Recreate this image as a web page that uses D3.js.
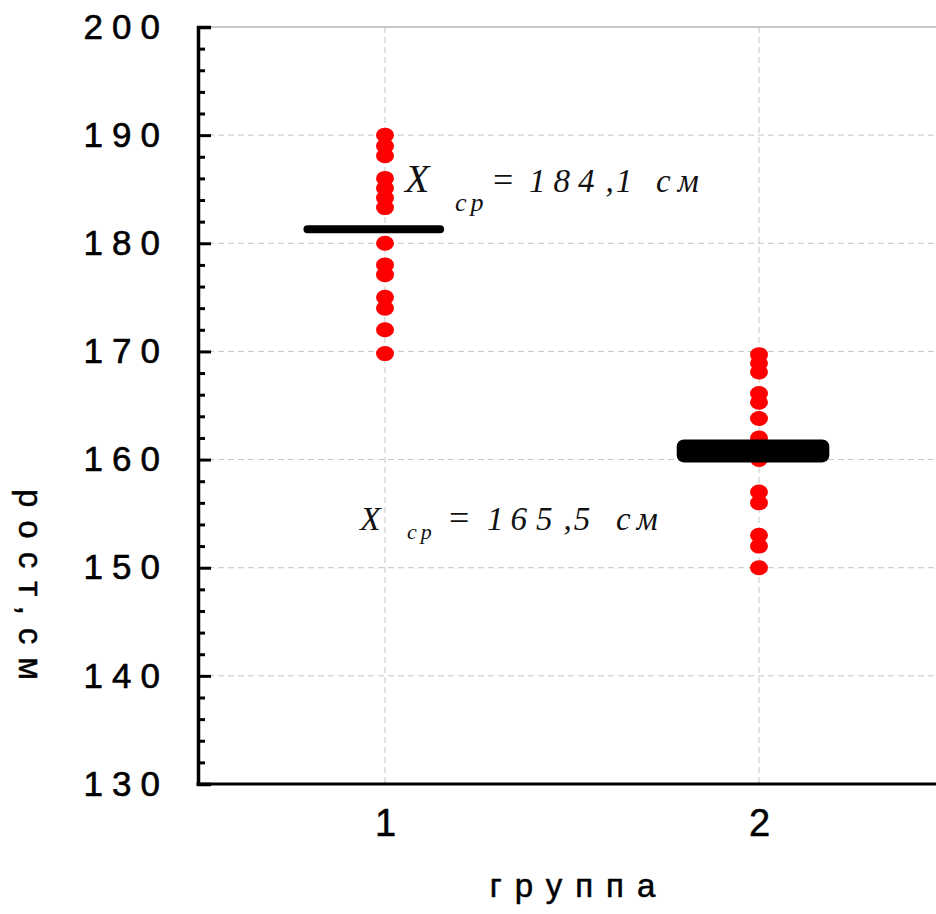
<!DOCTYPE html>
<html>
<head>
<meta charset="utf-8">
<script src="https://cdn.jsdelivr.net/npm/d3@7"></script>
<style>
  html, body { margin: 0; padding: 0; background: #fff; overflow: hidden; }
  svg { display: block; overflow: hidden; }
</style>
</head>
<body>
<svg id="chart" width="936" height="914"></svg>
<script>
// values
var groups = [1, 2];
var group1Heights = [190, 189, 188.1, 186, 185.1, 184.2, 183.3, 180, 178, 177.1, 175, 174, 172, 169.8];
var group2Heights = [169.7, 168.9, 168.1, 166.1, 165.3, 163.8, 162, 160, 157, 156, 153, 152, 150];
var meanValues = [181.3, 160.8];
var meanFrom = [0.782, 1.78];
var meanTo = [1.158, 2.188];
var yTicks = [130, 140, 150, 160, 170, 180, 190, 200];
var meanLabels = ["184,1", "165,5"];

var width = 936, height = 914;
var margin = { top: 27, left: 198, bottom: 784 };
var sans = "Liberation Sans, Arial, sans-serif";

var svg = d3.select("#chart");

var x = d3.scaleLinear().domain([0.5, 2.5]).range([margin.left, 946]);
var y = d3.scaleLinear().domain([130, 200]).range([margin.bottom, margin.top]);

// grid
var grid = svg.append("g")
    .attr("stroke", "#c4c4c4")
    .attr("stroke-width", 1)
    .attr("stroke-dasharray", "6,4");
grid.selectAll("line.h")
    .data(yTicks.filter(function (d) { return d > 130 && d < 200; }))
    .join("line")
    .attr("class", "h")
    .attr("x1", margin.left).attr("x2", width)
    .attr("y1", function (d) { return y(d); })
    .attr("y2", function (d) { return y(d); });
grid.selectAll("line.v")
    .data(groups)
    .join("line")
    .attr("class", "v")
    .attr("x1", function (d) { return x(d); })
    .attr("x2", function (d) { return x(d); })
    .attr("y1", margin.top).attr("y2", margin.bottom);

// top frame line
svg.append("line")
    .attr("x1", margin.left).attr("x2", width)
    .attr("y1", y(200)).attr("y2", y(200))
    .attr("stroke", "#b4b4b4").attr("stroke-width", 1.5);

// points
var points = [];
group1Heights.forEach(function (v) { points.push({ g: 1, v: v }); });
group2Heights.forEach(function (v) { points.push({ g: 2, v: v }); });

svg.append("g")
    .attr("fill", "#ff0000")
    .selectAll("ellipse")
    .data(points)
    .join("ellipse")
    .attr("cx", function (d) { return x(d.g); })
    .attr("cy", function (d) { return y(d.v); })
    .attr("rx", 9)
    .attr("ry", 7.5);

// mean lines
var thick = [8, 23];
svg.append("g")
    .attr("fill", "#000")
    .selectAll("rect")
    .data(groups)
    .join("rect")
    .attr("x", function (d, i) { return x(meanFrom[i]); })
    .attr("width", function (d, i) { return x(meanTo[i]) - x(meanFrom[i]); })
    .attr("y", function (d, i) { return y(meanValues[i]) - thick[i] / 2; })
    .attr("height", function (d, i) { return thick[i]; })
    .attr("rx", function (d, i) { return i === 0 ? 4 : 7; });

// axes
var yAxis = function (g) { return g
    .attr("transform", "translate(" + margin.left + ",0)")
    .call(d3.axisLeft(y).tickValues(yTicks).tickSize(-13).tickPadding(29)
        .tickFormat(d3.format("d")))
    .call(function (g) { g.select(".domain").attr("stroke-width", 3.5); })
    .call(function (g) { g.selectAll(".tick line").attr("stroke-width", 3); })
    .call(function (g) { g.selectAll("text")
        .attr("font-family", sans)
        .attr("font-size", "35px")
        .attr("fill", "#000")
        .attr("stroke", "#000")
        .attr("stroke-width", 0.6)
        .style("letter-spacing", "9px"); }); };

var yMinor = function (g) { return g
    .attr("transform", "translate(" + margin.left + ",0)")
    .call(d3.axisLeft(y).tickValues(d3.range(132, 200, 2).filter(function (d) { return d % 10 !== 0; }))
        .tickSize(-7).tickFormat(""))
    .call(function (g) { g.select(".domain").remove(); })
    .call(function (g) { g.selectAll(".tick line").attr("stroke-width", 3); }); };

var xAxis = function (g) { return g
    .attr("transform", "translate(0," + margin.bottom + ")")
    .call(d3.axisBottom(x).tickValues(groups).tickSize(0).tickPadding(25)
        .tickFormat(d3.format("d")))
    .call(function (g) { g.select(".domain").remove(); })
    .call(function (g) { g.selectAll("text")
        .attr("font-family", sans)
        .attr("font-size", "38px")
        .attr("fill", "#000")
        .attr("stroke", "#000")
        .attr("stroke-width", 0.5); }); };

svg.append("g").call(yMinor);
svg.append("g").call(xAxis);
svg.append("line")
    .attr("x1", margin.left - 1.5).attr("x2", width)
    .attr("y1", margin.bottom).attr("y2", margin.bottom)
    .attr("stroke", "#000").attr("stroke-width", 3);
svg.append("g").call(yAxis);

// axis titles
svg.append("text")
    .attr("x", 579).attr("y", 897)
    .attr("text-anchor", "middle")
    .attr("font-family", sans)
    .attr("font-size", "33px")
    .attr("stroke", "#000")
    .attr("stroke-width", 0.5)
    .style("letter-spacing", "13px")
    .text("группа");

svg.append("text")
    .attr("transform", "translate(19,591) rotate(90)")
    .attr("text-anchor", "middle")
    .attr("font-family", sans)
    .attr("font-size", "33px")
    .attr("stroke", "#000")
    .attr("stroke-width", 0.5)
    .style("letter-spacing", "13px")
    .text("рост,см");

// mean annotations: X_ср = value см (spacing per glyph via dx)
function annotate(x0, y0, label, o) {
    var t = svg.append("text")
        .attr("font-family", "Liberation Serif, Times New Roman, serif")
        .attr("font-style", "italic")
        .attr("fill", "#111");
    t.append("tspan").attr("x", x0).attr("y", y0).attr("font-size", o.big + "px").text("X");
    t.append("tspan").attr("x", x0 + o.sub).attr("y", y0 + o.subDy).attr("font-size", o.subSize + "px")
        .attr("dx", "0 4").text("ср");
    t.append("tspan").attr("x", x0 + o.eq).attr("y", y0).attr("font-size", "36px")
        .attr("font-style", "normal").text("=");
    t.append("tspan").attr("x", x0 + o.num).attr("y", y0).attr("font-size", "33px")
        .attr("dx", o.numDx).text(label);
    t.append("tspan").attr("x", x0 + o.unit).attr("y", y0).attr("font-size", "33px")
        .attr("dx", o.unitDx).text("см");
}
annotate(x(1) + 20, y(184.7), meanLabels[0],
    { big: 40, sub: 50, subDy: 19, subSize: 26, eq: 88, num: 124, numDx: "0 8 8 11 2",
      unit: 251, unitDx: "0 7" });
annotate(x(1) - 25, y(153.5), meanLabels[1],
    { big: 34, sub: 47, subDy: 9, subSize: 22, eq: 89, num: 127, numDx: "0 7 9 11 2",
      unit: 256, unitDx: "0 6" });
</script>
</body>
</html>
